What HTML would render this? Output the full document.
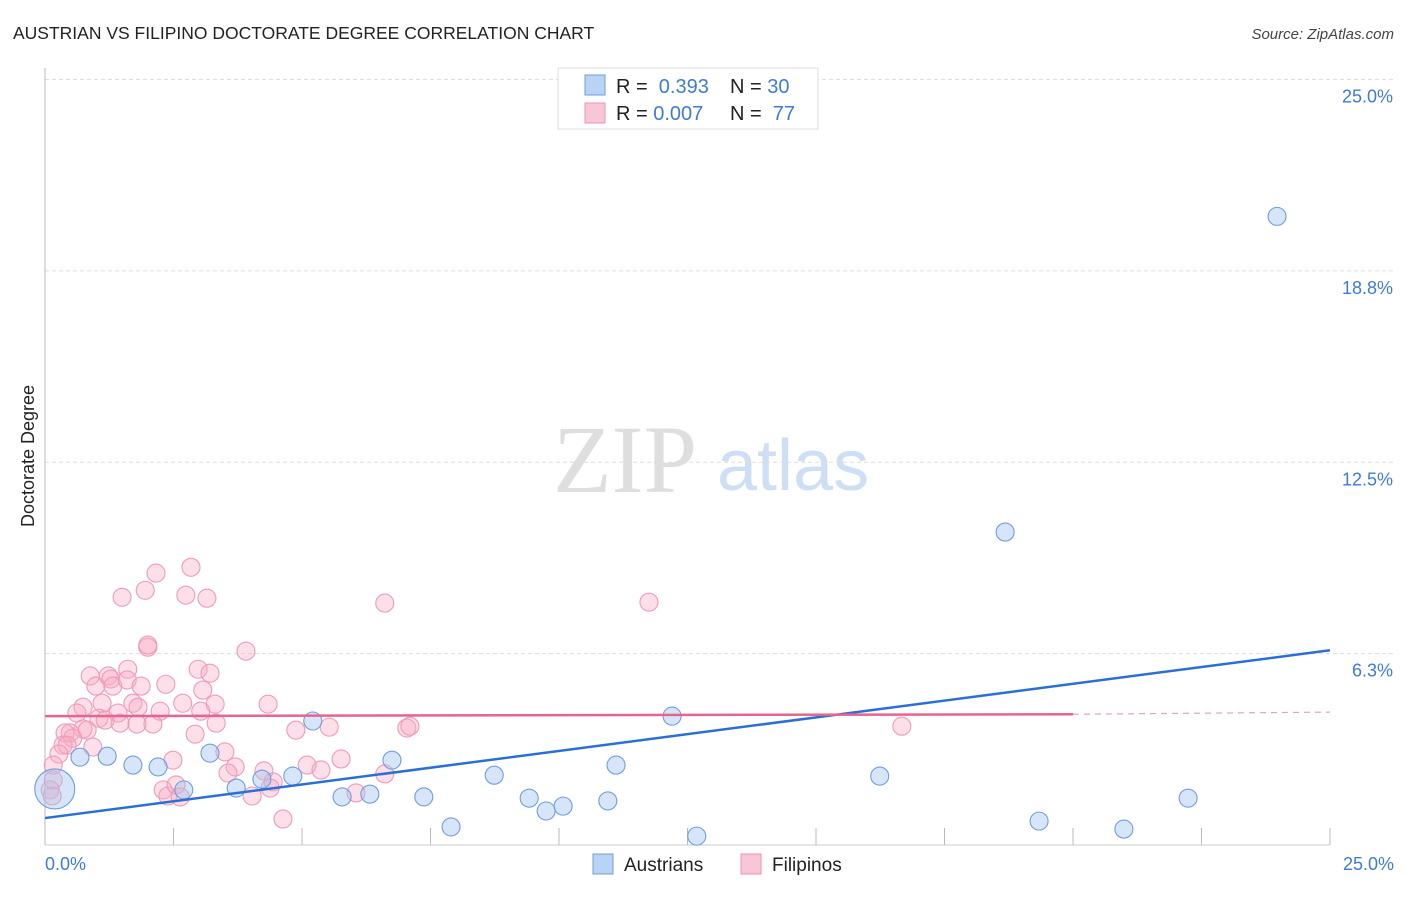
<!DOCTYPE html>
<html><head><meta charset="utf-8"><style>
body{margin:0;background:#fff;font-family:"Liberation Sans",sans-serif;}
</style></head><body>
<svg id="chart" width="1406" height="892" viewBox="0 0 1406 892" xmlns="http://www.w3.org/2000/svg">
<text x="13" y="39" font-size="17.5" fill="#222">AUSTRIAN VS FILIPINO DOCTORATE DEGREE CORRELATION CHART</text>
<text x="1394" y="39" font-size="15" fill="#444" font-style="italic" text-anchor="end">Source: ZipAtlas.com</text>
<g>
<text x="553" y="492" font-size="96" font-family="Liberation Serif,serif" fill="#dedede">ZIP</text>
<text x="717" y="490" font-size="72" fill="#cddff4">atlas</text>
</g>
<g id="grid"></g>
<line x1="45" y1="68" x2="45" y2="845" stroke="#bbb"/>
<line x1="45" y1="845" x2="1330" y2="845" stroke="#ccc"/>
<g id="ticks"></g>
<g id="pts"></g>
<g id="lines"></g>
<text x="34" y="456" font-size="18" fill="#222" transform="rotate(-90 34 456)" text-anchor="middle">Doctorate Degree</text>
<text x="45" y="870" font-size="18" fill="#3d7bd9">0.0%</text>
<text x="1394" y="870" font-size="18" fill="#3d7bd9" text-anchor="end">25.0%</text>
<g>
<rect x="558" y="68" width="260" height="61" fill="#fff" stroke="#ddd"/>
<rect x="585" y="75" width="20" height="20" fill="#b9d3f5" stroke="#6d9de0"/>
<rect x="585" y="103" width="20" height="20" fill="#f8c6d5" stroke="#ee93b0"/>
<text x="616" y="93" font-size="20" fill="#222">R = <tspan fill="#3d7bd9">&#160;0.393</tspan></text>
<text x="730" y="93" font-size="20" fill="#222">N = <tspan fill="#3d7bd9">30</tspan></text>
<text x="616" y="120" font-size="20" fill="#222">R = <tspan fill="#3d7bd9">0.007</tspan></text>
<text x="730" y="120" font-size="20" fill="#222">N = <tspan fill="#3d7bd9">&#160;77</tspan></text>
</g>
<g>
<rect x="593" y="854" width="20" height="20" fill="#b9d3f5" stroke="#6d9de0"/>
<text x="624" y="871" font-size="19" fill="#222">Austrians</text>
<rect x="741" y="854" width="20" height="20" fill="#f8c6d5" stroke="#ee93b0"/>
<text x="772" y="871" font-size="19" fill="#222">Filipinos</text>
</g>
</svg>
<script>
const yTicks=[25,18.75,12.5,6.25];
const yTickLabels=["25.0%","18.8%","12.5%","6.3%"];
const xTicks=[2.5,5,7.5,10,12.5,15,17.5,20,22.5,25];
const blueX=[0.19,0.68,1.21,1.71,2.20,2.70,3.21,3.72,4.22,4.82,5.21,5.78,6.32,6.75,7.37,7.90,8.74,9.42,9.75,10.08,10.95,11.11,12.20,12.68,16.24,18.68,19.34,20.99,22.24,23.97];
const blueY=[1.83,2.87,2.90,2.61,2.55,1.80,3.00,1.86,2.15,2.25,4.05,1.57,1.66,2.77,1.57,0.59,2.28,1.53,1.11,1.27,1.44,2.61,4.21,0.29,2.25,10.22,0.78,0.52,1.53,20.53];
const blueSize=[20,9,9,9,9,9,9,9,9,9,9,9,9,9,9,9,9,9,9,9,9,9,9,9,9,9,9,9,9,9];
const pinkX=[1.50,1.95,2.16,2.84,2.74,3.15,6.61,2.00,2.00,3.91,0.88,0.99,1.23,1.28,1.32,1.61,1.60,1.87,2.35,2.98,3.21,3.07,3.31,2.68,2.24,3.03,3.33,1.71,1.81,1.11,0.74,0.62,1.05,1.17,1.42,1.46,1.79,2.10,0.74,0.82,0.49,0.39,0.54,0.35,0.43,0.93,0.27,0.16,0.16,0.10,0.14,2.92,3.50,3.70,3.56,2.49,2.30,2.39,2.55,2.63,4.26,4.44,4.38,4.03,4.63,4.34,4.88,5.53,5.10,5.37,5.76,6.61,6.05,7.04,7.10,11.75,16.67];
const pinkY=[8.09,8.32,8.88,9.07,8.16,8.06,7.90,6.46,6.53,6.33,5.52,5.19,5.52,5.42,5.19,5.74,5.39,5.19,5.25,5.74,5.61,5.06,4.60,4.63,4.37,4.37,3.98,4.63,4.50,4.63,4.50,4.31,4.14,4.08,4.31,3.98,3.95,3.95,3.79,3.75,3.66,3.66,3.49,3.26,3.26,3.20,2.97,2.61,2.12,1.80,1.60,3.62,3.04,2.55,2.35,2.77,1.80,1.60,1.96,1.57,2.42,2.06,1.86,1.60,0.85,4.60,3.75,3.85,2.61,2.45,2.81,2.32,1.70,3.82,3.88,7.93,3.88];
const blueTrend=[0,0.88,25,6.36];
const pinkTrend=[0,4.21,20,4.27,25,4.34];

const NS="http://www.w3.org/2000/svg";
const X0=45,X1=1330,Y0=845,Y1=79.5;
function sx(v){return X0+(X1-X0)*v/25;}
function sy(v){return Y0-(Y0-Y1)*v/25;}
function mk(t,a,p){const e=document.createElementNS(NS,t);for(const k in a)e.setAttribute(k,a[k]);document.getElementById(p).appendChild(e);return e;}

yTicks.forEach((t,i)=>{
  const l=mk('line',{x1:45,x2:1394,y1:sy(t),y2:sy(t),stroke:'#ddd','stroke-dasharray':'4,3'},'grid');
  
  
  const tx=mk('text',{x:1393,y:sy(t)+23,'font-size':18,fill:'#3d7bd9','text-anchor':'end'},'grid');
  tx.textContent=yTickLabels[i];
  
  
});
xTicks.forEach(t=>{
  const l=mk('line',{x1:sx(t),x2:sx(t),y1:828,y2:845,stroke:'#bbb'},'ticks');
  
  
});
pinkX.forEach((v,i)=>{
  const c=mk('circle',{cx:sx(v),cy:sy(pinkY[i]),r:9,fill:'rgba(246,172,196,0.38)',stroke:'#ef9ab6','stroke-width':1.1},'pts');
  
  
});
blueX.forEach((v,i)=>{
  const c=mk('circle',{cx:sx(v),cy:sy(blueY[i]),r:blueSize[i],fill:'rgba(165,198,240,0.45)',stroke:'#6f9ddf','stroke-width':1.1},'pts');
  
  
});
const bl=mk('line',{x1:sx(blueTrend[0]),y1:sy(blueTrend[1]),x2:sx(blueTrend[2]),y2:sy(blueTrend[3]),stroke:'#2a6fd6','stroke-width':2.5},'lines');


const pl=mk('line',{x1:sx(pinkTrend[0]),y1:sy(pinkTrend[1]),x2:sx(pinkTrend[2]),y2:sy(pinkTrend[3]),stroke:'#e8648e','stroke-width':2.5},'lines');


const pd=mk('line',{x1:sx(pinkTrend[2]),y1:sy(pinkTrend[3]),x2:sx(pinkTrend[4]),y2:sy(pinkTrend[5]),stroke:'#e8a0b8','stroke-width':1.2,'stroke-dasharray':'6,5'},'lines');


</script>
</body></html>
